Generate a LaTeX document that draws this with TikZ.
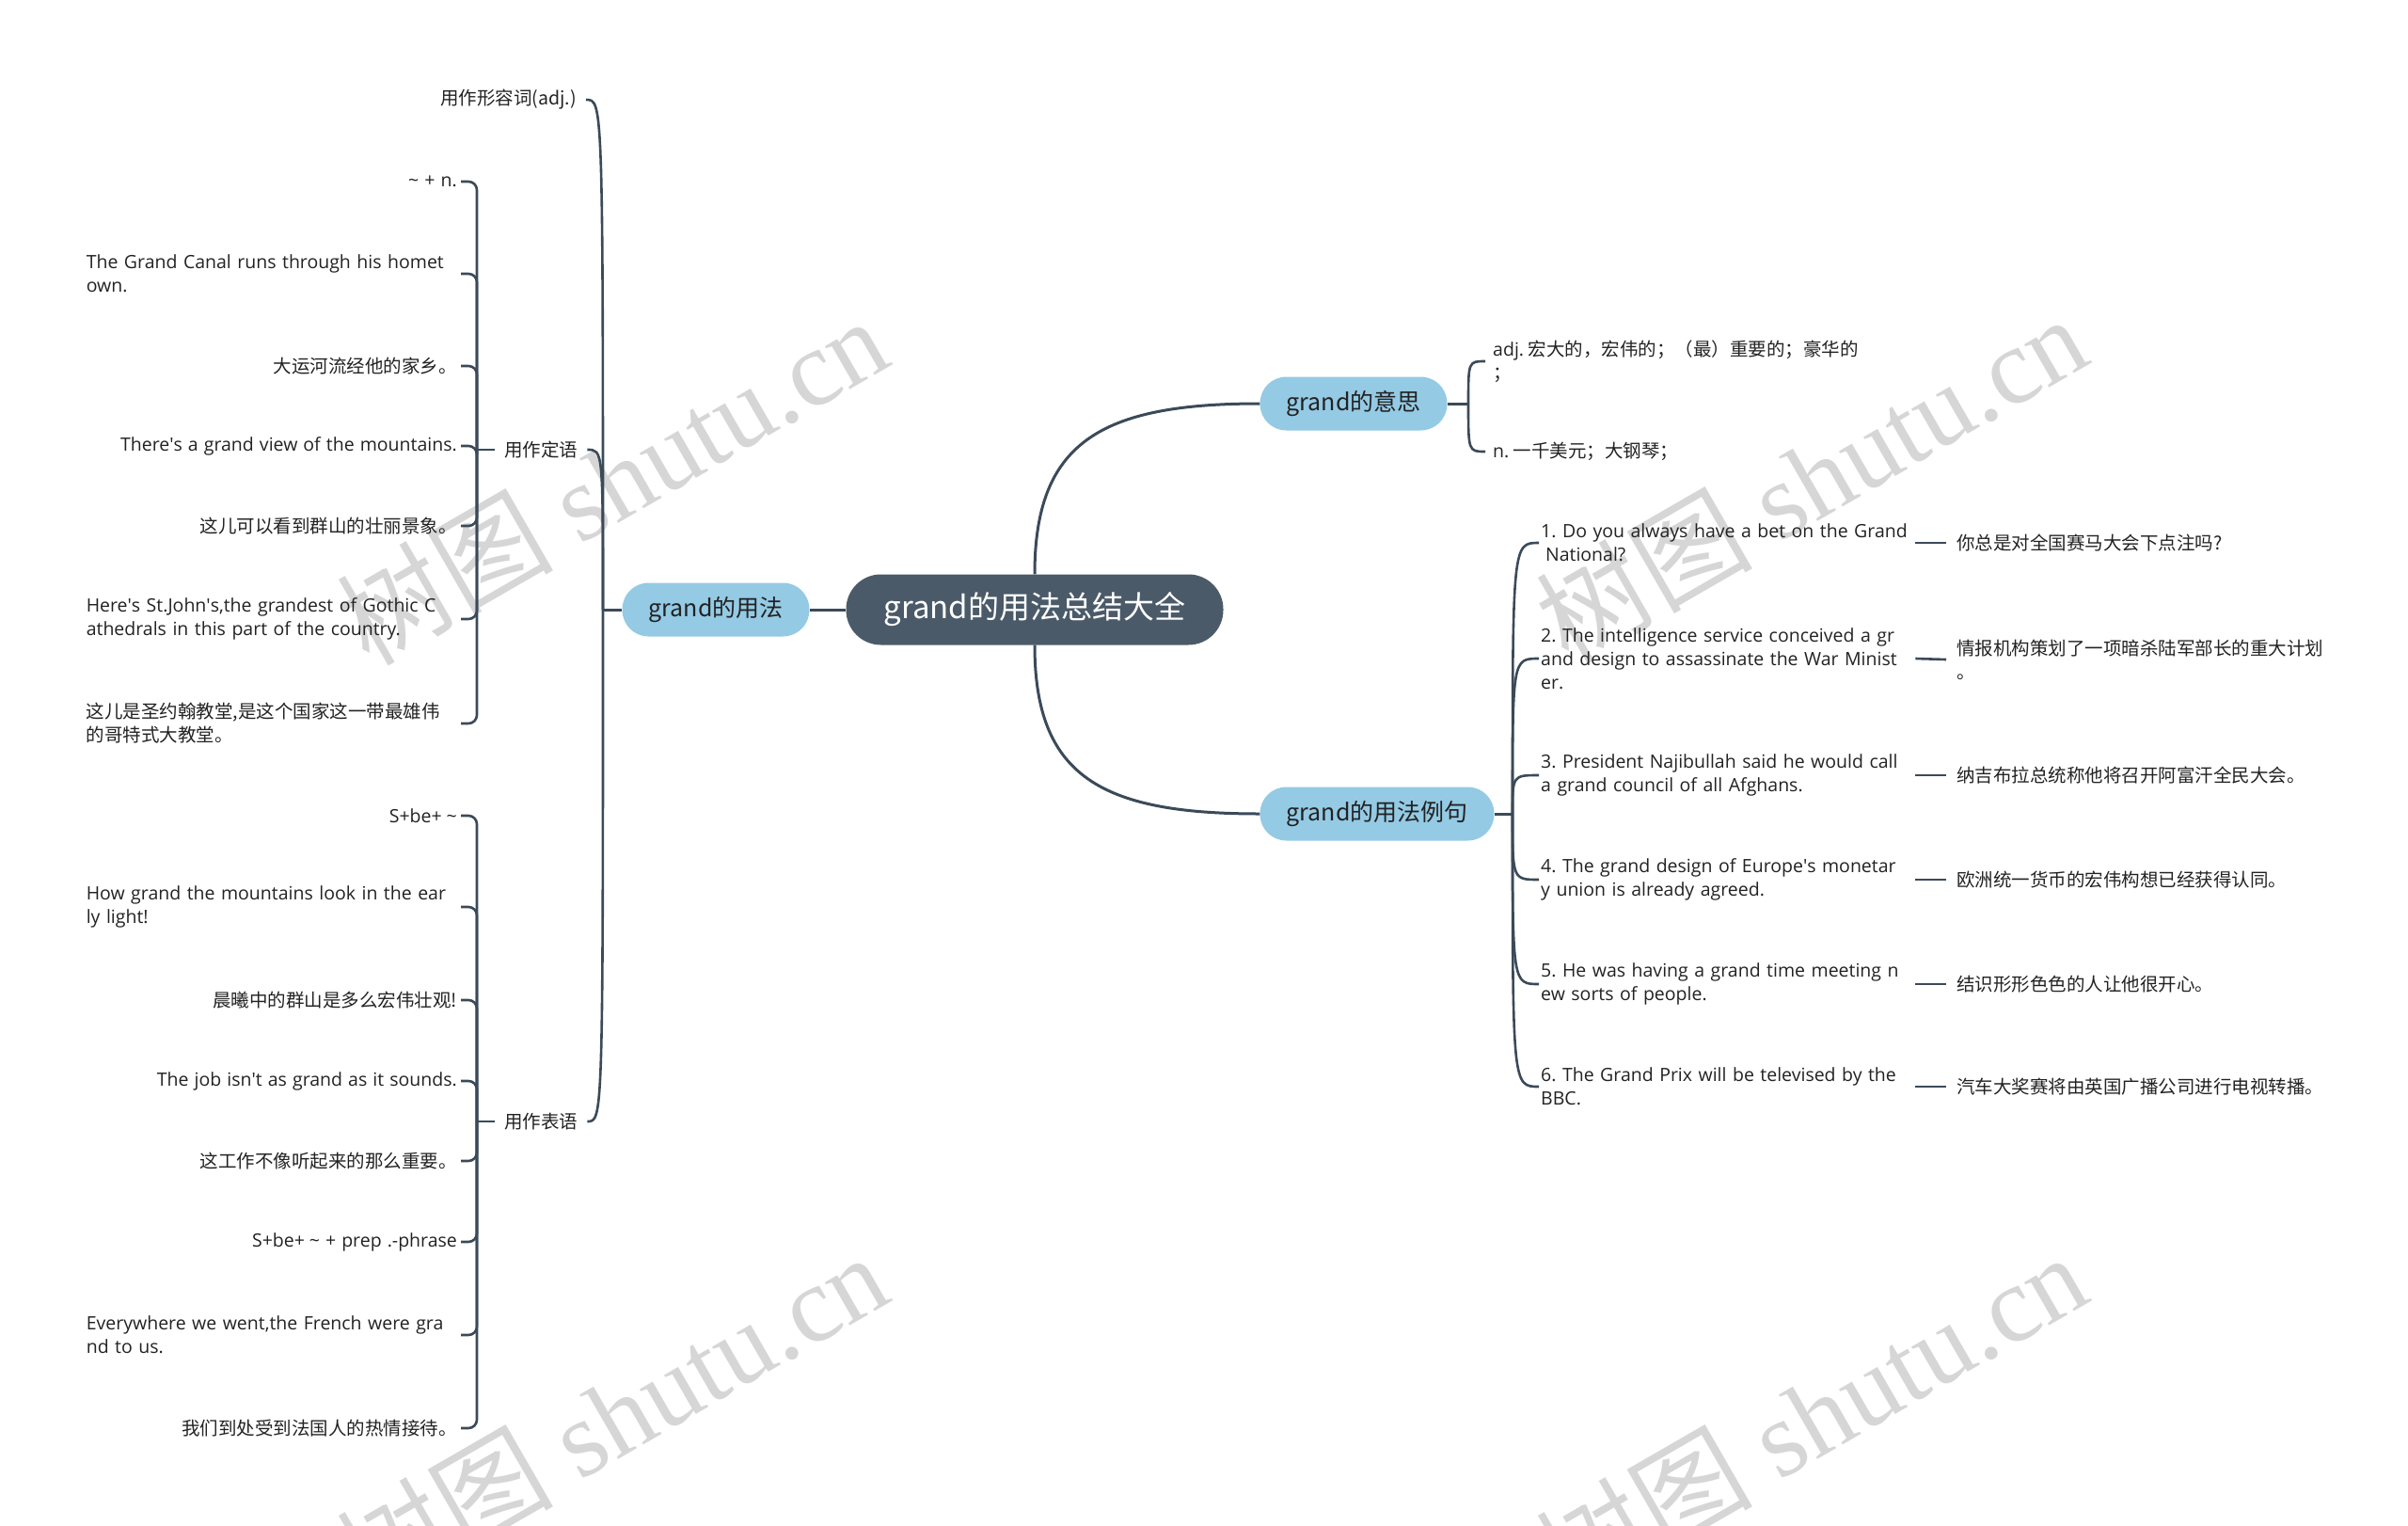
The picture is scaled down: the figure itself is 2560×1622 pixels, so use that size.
\documentclass[tikz,border=0pt]{standalone}
\usepackage{fontspec}
\setmainfont{Open Sans}[WordSpace=1.2]
\newfontfamily\cjk{Noto Sans CJK SC}
\newfontfamily\wmserif{Liberation Serif}
\newcommand\aq{\textquotesingle}
\newcommand\tl{\hspace{0.25em}\textasciitilde}
\frenchspacing
\definecolor{linec}{HTML}{3B4A59}
\definecolor{rootc}{HTML}{4B5A69}
\definecolor{bluec}{HTML}{94CAE4}
\definecolor{txt}{HTML}{222222}
\definecolor{wmc}{HTML}{D6D6D6}
\tikzset{
  ln/.style={draw=linec, line width=3pt},
  lnb/.style={draw=linec, line width=2.6pt},
  rootbox/.style={rounded corners=37pt, fill=rootc, text=white, font=\cjk\fontsize{33}{40}\selectfont, minimum width=401pt, minimum height=75pt, inner sep=0pt},
  bluebox/.style={rounded corners=28pt, fill=bluec, text=txt, font=\cjk\fontsize{25}{30}\selectfont, minimum height=57pt, inner xsep=28pt, inner ysep=0pt},
  lat/.style={text=txt, font=\fontsize{19.5}{25}\selectfont, inner sep=4pt},
  chn/.style={text=txt, font=\cjk\fontsize{19.5}{25}\selectfont, inner sep=4pt},
  wide/.style={text width=396pt, align=left, inner xsep=2pt},
  mid/.style={text=txt, font=\cjk\fontsize{19.5}{25}\selectfont, inner xsep=10pt, inner ysep=4pt},
  wm/.style={text=wmc, font=\wmserif\fontsize{115}{115}\selectfont, rotate=30, inner sep=0pt},
}
\begin{document}
\begin{tikzpicture}[x=1pt,y=-1pt]
\useasboundingbox (0,0) rectangle (2560,1622);
% watermarks
\node[wm] (w1) at (650,510) {{\cjk 树图} shutu.cn};
\node[wm] (w2) at (1925,508) {{\cjk 树图} shutu.cn};
\node[wm] (w3) at (650,1505) {{\cjk 树图} shutu.cn};
\node[wm] (w4) at (1925,1505) {{\cjk 树图} shutu.cn};

% main nodes
\node[rootbox] (root) at (1100,648) {grand的用法总结大全};
\node[bluebox] (n1) at (761,648) {grand的用法};
\node[bluebox] (n2) at (1439,429) {grand的意思};
\node[bluebox] (n3) at (1464,865) {grand的用法例句};

\draw[ln] (root.west) -- (n1.east);
\draw[ln] (root.north) .. controls (1100,470) and (1170,429) .. (n2.west);
\draw[ln] (root.south) .. controls (1100,825) and (1170,865) .. (n3.west);

% left level 1
\node[mid, anchor=east] (L1) at (623,106) {用作形容词(adj.)};
\node[mid, anchor=west] (L2) at (526,478) {用作定语};
\node[mid, anchor=west] (L3) at (526,1192) {用作表语};
\coordinate (j1) at (641,648);
\draw[ln] (n1.west) -- (j1);
\draw[lnb] (j1) .. controls (641,106) .. (L1.east);
\draw[lnb] (j1) .. controls (641,478) .. (L2.east);
\draw[lnb] (j1) .. controls (641,1192) .. (L3.east);

% left level 2, group A
\node[lat, anchor=east] (a1) at (490,193) {\textasciitilde{} + n.};
\node[lat, wide, anchor=east] (a2) at (490,291) {The Grand Canal runs through his homet\\own.};
\node[chn, anchor=east] (a3) at (490,389) {大运河流经他的家乡。};
\node[lat, anchor=east] (a4) at (490,474) {There\aq s a grand view of the mountains.};
\node[chn, anchor=east] (a5) at (490,559) {这儿可以看到群山的壮丽景象。};
\node[lat, wide, anchor=east] (a6) at (490,658) {Here\aq s St.John\aq s,the grandest of Gothic C\\athedrals in this part of the country.};
\node[chn, wide, anchor=east] (a7) at (490,769) {这儿是圣约翰教堂,是这个国家这一带最雄伟\\的哥特式大教堂。};
\coordinate (j2) at (507,478);
\draw[lnb] (L2.west) -- (j2);
\foreach \c in {a1,a2,a3,a4,a5,a6,a7}{
  \draw[lnb, rounded corners=9pt] (j2) |- (\c.east);
}

% left level 2, group B
\node[lat, anchor=east] (b1) at (490,867) {S+be+\tl};
\node[lat, wide, anchor=east] (b2) at (490,964) {How grand the mountains look in the ear\\ly light!};
\node[chn, anchor=east] (b3) at (490,1063) {晨曦中的群山是多么宏伟壮观!};
\node[lat, anchor=east] (b4) at (490,1149) {The job isn\aq t as grand as it sounds.};
\node[chn, anchor=east] (b5) at (490,1234) {这工作不像听起来的那么重要。};
\node[lat, anchor=east] (b6) at (490,1320) {S+be+\tl{} + prep .-phrase};
\node[lat, wide, anchor=east] (b7) at (490,1419) {Everywhere we went,the French were gra\\nd to us.};
\node[chn, anchor=east] (b8) at (490,1518) {我们到处受到法国人的热情接待。};
\coordinate (j3) at (507,1192);
\draw[lnb] (L3.west) -- (j3);
\foreach \c in {b1,b2,b3,b4,b5,b6,b7,b8}{
  \draw[lnb, rounded corners=9pt] (j3) |- (\c.east);
}

% meanings
\node[chn, anchor=west, inner xsep=8pt, align=left] (m1) at (1579,384) {{\rmfamily adj.} 宏大的，宏伟的；（最）重要的；豪华的\\；};
\node[chn, anchor=west, inner xsep=8pt] (m2) at (1579,480) {{\rmfamily n.} 一千美元；大钢琴；};
\coordinate (j4) at (1561,429);
\draw[ln] (n2.east) -- (j4);
\draw[lnb] (j4) .. controls (j4 |- m1.west) .. (m1.west);
\draw[lnb] (j4) .. controls (j4 |- m2.west) .. (m2.west);

% examples
\node[lat, wide, anchor=west] (e1) at (1636,577) {1. Do you always have a bet on the Grand\\\hspace*{0.25em}National?};
\node[lat, wide, anchor=west] (e2) at (1636,700) {2. The intelligence service conceived a gr\\and design to assassinate the War Minist\\er.};
\node[lat, wide, anchor=west] (e3) at (1636,824) {3. President Najibullah said he would call\\a grand council of all Afghans.};
\node[lat, wide, anchor=west] (e4) at (1636,935) {4. The grand design of Europe\aq s monetar\\y union is already agreed.};
\node[lat, wide, anchor=west] (e5) at (1636,1046) {5. He was having a grand time meeting n\\ew sorts of people.};
\node[lat, wide, anchor=west] (e6) at (1636,1155) {6. The Grand Prix will be televised by the\\BBC.};
\coordinate (j5) at (1608,865);
\draw[ln] (n3.east) -- (j5);
\foreach \c in {e1,e2,e3,e4,e5,e6}{
  \draw[lnb] (j5) .. controls (j5 |- \c.west) .. (\c.west);
}

% translations
\node[chn, anchor=west, inner xsep=11pt] (t1) at (2069,577) {你总是对全国赛马大会下点注吗?};
\node[chn, anchor=west, inner xsep=11pt, align=left] (t2) at (2069,701) {情报机构策划了一项暗杀陆军部长的重大计划\\。};
\node[chn, anchor=west, inner xsep=11pt] (t3) at (2069,824) {纳吉布拉总统称他将召开阿富汗全民大会。};
\node[chn, anchor=west, inner xsep=11pt] (t4) at (2069,935) {欧洲统一货币的宏伟构想已经获得认同。};
\node[chn, anchor=west, inner xsep=11pt] (t5) at (2069,1046) {结识形形色色的人让他很开心。};
\node[chn, anchor=west, inner xsep=11pt] (t6) at (2069,1155) {汽车大奖赛将由英国广播公司进行电视转播。};
\foreach \i in {1,...,6}{
  \draw[lnb] (e\i.east) -- (t\i.west);
}
\end{tikzpicture}
\end{document}
